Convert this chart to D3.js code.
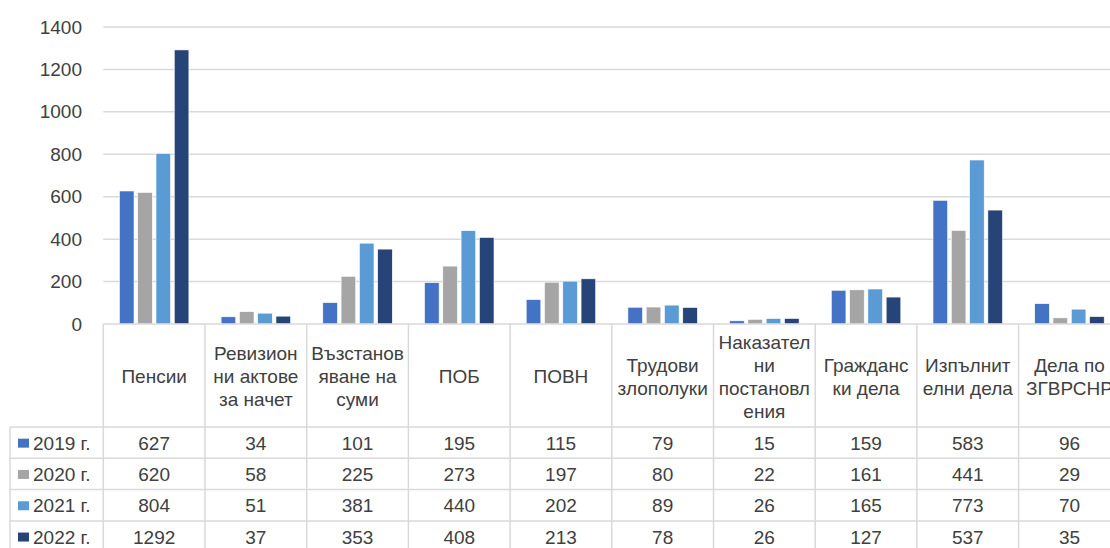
<!DOCTYPE html>
<html>
<head>
<meta charset="utf-8">
<script src="https://cdn.jsdelivr.net/npm/d3@7"></script>
<style>
  html, body { margin: 0; padding: 0; background: #fff; }
  svg { display: block; font-family: "Liberation Sans", Arial, sans-serif; }
</style>
</head>
<body>
<svg id="chart" width="1110" height="548"></svg>
<script>
// ---- data ----
const categories = [
  "Пенсии",
  "Ревизион\nни актове\nза начет",
  "Възстанов\nяване на\nсуми",
  "ПОБ",
  "ПОВН",
  "Трудови\nзлополуки",
  "Наказател\nни\nпостановл\nения",
  "Гражданс\nки дела",
  "Изпълнит\nелни дела",
  "Дела по\nЗГВРСНР"
];
const seriesNames = ["2019 г.", "2020 г.", "2021 г.", "2022 г."];
const values2019 = [627, 34, 101, 195, 115, 79, 15, 159, 583, 96];
const values2020 = [620, 58, 225, 273, 197, 80, 22, 161, 441, 29];
const values2021 = [804, 51, 381, 440, 202, 89, 26, 165, 773, 70];
const values2022 = [1292, 37, 353, 408, 213, 78, 26, 127, 537, 35];
const yTicks = [0, 200, 400, 600, 800, 1000, 1200, 1400];
const colors = ["#4472C4", "#A5A5A5", "#5B9BD5", "#264478"];

const seriesValues = [values2019, values2020, values2021, values2022];

// ---- layout ----
const svg = d3.select("#chart");
const plotLeft = 103.3, bandW = 101.7;
const plotRight = plotLeft + bandW * categories.length;
const yTop = 27, yBase = 324;
const headerBottom = 427, rowH = 31.3;
const tableLeft = 10;
const gridColor = "#d9d9d9";
const textColor = "#404040";
const fontSize = 19;

const x = d3.scaleBand().domain(d3.range(categories.length)).range([plotLeft, plotRight]).padding(0);
const groupW = 69.5;
const x1 = d3.scaleBand().domain(d3.range(seriesNames.length))
  .range([(bandW - groupW) / 2, (bandW + groupW) / 2]).paddingInner(0.2).paddingOuter(0);
const y = d3.scaleLinear().domain([0, 1400]).range([yBase, yTop]);

// gridlines
svg.append("g").selectAll("line").data(yTicks.filter(d => d > 0)).join("line")
  .attr("x1", plotLeft).attr("x2", 1110)
  .attr("y1", d => y(d)).attr("y2", d => y(d))
  .attr("stroke", gridColor).attr("stroke-width", 1.5);

// y axis labels
const yAxis = d3.axisLeft(y).tickValues(yTicks).tickSize(0).tickPadding(0).tickFormat(d3.format("d"));
const yg = svg.append("g").attr("transform", `translate(82,0)`).call(yAxis);
yg.select(".domain").remove();
yg.selectAll("text").attr("font-size", fontSize).attr("fill", textColor)
  .attr("font-family", "Liberation Sans, Arial, sans-serif");

// bars
const bars = svg.append("g");
seriesValues.forEach((vals, si) => {
  bars.append("g").selectAll("rect").data(vals).join("rect")
    .attr("x", (d, i) => x(i) + x1(si))
    .attr("width", x1.bandwidth())
    .attr("y", d => y(d))
    .attr("height", d => yBase - y(d))
    .attr("fill", colors[si])
    .attr("stroke", "#ffffff").attr("stroke-width", 0.6);
});

// ---- data table ----
const tbl = svg.append("g");
const hLines = [
  { y: yBase, x1: plotLeft, x2: 1110 },
  { y: headerBottom, x1: tableLeft, x2: 1110 }
];
seriesNames.forEach((s, i) => hLines.push({ y: headerBottom + rowH * (i + 1), x1: tableLeft, x2: 1110 }));
tbl.selectAll("line.h").data(hLines).join("line").attr("class", "h")
  .attr("x1", d => d.x1).attr("x2", d => d.x2).attr("y1", d => d.y).attr("y2", d => d.y)
  .attr("stroke", gridColor).attr("stroke-width", 1.5);
const vLines = [{ x: tableLeft, y1: headerBottom }];
d3.range(categories.length + 1).forEach(i => vLines.push({ x: plotLeft + bandW * i, y1: yBase }));
tbl.selectAll("line.v").data(vLines).join("line").attr("class", "v")
  .attr("x1", d => d.x).attr("x2", d => d.x).attr("y1", d => d.y1).attr("y2", 560)
  .attr("stroke", gridColor).attr("stroke-width", 1.5);

// header labels
const lineH = 23;
const headerMid = (yBase + headerBottom) / 2 + 1;
categories.forEach((c, i) => {
  const lines = c.split("\n");
  const t = tbl.append("text")
    .attr("text-anchor", "middle").attr("font-size", fontSize).attr("fill", textColor);
  lines.forEach((ln, j) => {
    t.append("tspan").attr("x", x(i) + bandW / 2)
      .attr("y", headerMid + (j - (lines.length - 1) / 2) * lineH)
      .attr("dy", "0.35em").text(ln);
  });
});

// rows
seriesNames.forEach((s, si) => {
  const cy = headerBottom + rowH * si + rowH / 2 + 0.5;
  tbl.append("rect").attr("x", 18).attr("y", cy - 4.5).attr("width", 11).attr("height", 9).attr("fill", colors[si]);
  tbl.append("text").attr("x", 33).attr("y", cy).attr("dy", "0.35em")
    .attr("font-size", fontSize).attr("fill", textColor).text(s);
  tbl.append("g").selectAll("text").data(seriesValues[si]).join("text")
    .attr("x", (d, i) => x(i) + bandW / 2).attr("y", cy).attr("dy", "0.35em")
    .attr("text-anchor", "middle").attr("font-size", fontSize).attr("fill", textColor)
    .text(d => d);
});
</script>
</body>
</html>
